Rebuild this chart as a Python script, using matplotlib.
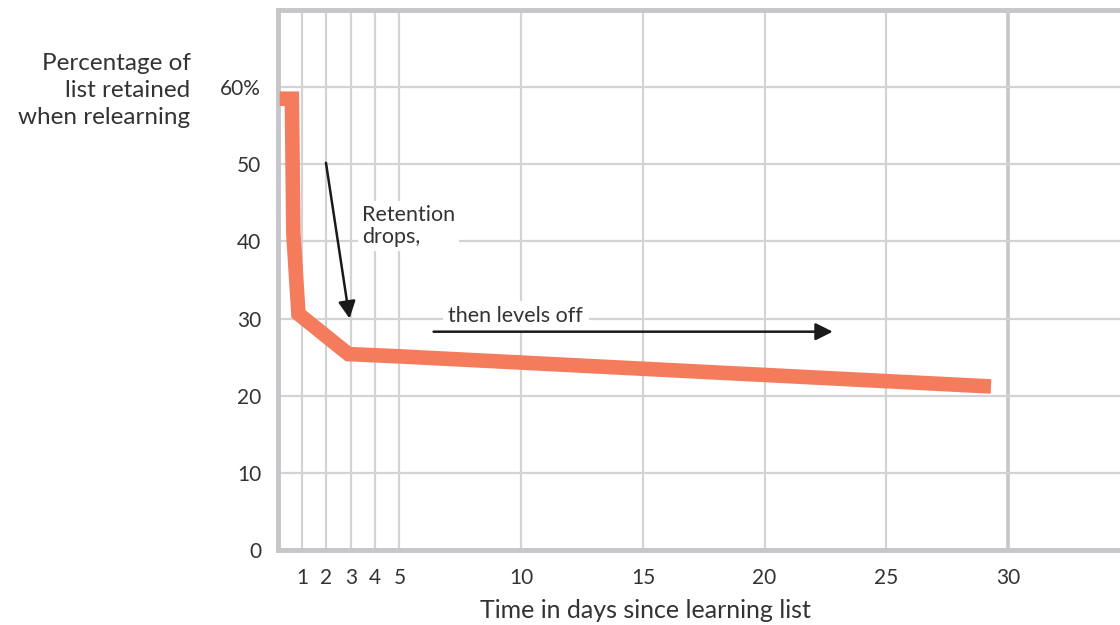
import matplotlib.pyplot as plt

# retention curve (days, percent)
days = [0.08, 0.58, 0.64, 0.85, 2.9, 5.0, 29.3]
retained = [58.5, 58.5, 41.0, 30.6, 25.4, 25.1, 21.2]

xticks = [1, 2, 3, 4, 5, 10, 15, 20, 25, 30]
yticks = [0, 10, 20, 30, 40, 50, 60]
ytick_labels = ["0", "10", "20", "30", "40", "50", "60%"]

plt.rcParams['font.family'] = ['Lato', 'DejaVu Sans']
text_col = '#333333'
grid_col = '#d3d3d6'
spine_col = '#c6c6ca'
line_col = '#f47b5c'

fig = plt.figure(figsize=(11.2, 6.25), dpi=100)
ax = fig.add_axes([0.248, 0.12, 0.752, 0.864])
ax.set_xlim(0, 34.6)
ax.set_ylim(0, 70)

# grid
for x in xticks:
    lw = 2.6 if x == 30 else 1.6
    c = spine_col if x == 30 else grid_col
    ax.axvline(x, color=c, lw=lw, zorder=1)
for y in yticks[1:]:
    ax.axhline(y, color=grid_col, lw=1.6, zorder=1)

for side in ['left', 'top', 'bottom']:
    ax.spines[side].set_color(spine_col)
    ax.spines[side].set_linewidth(3.5)
ax.spines['right'].set_visible(False)

ax.set_xticks(xticks)
ax.set_yticks(yticks)
ax.set_yticklabels(ytick_labels)
ax.tick_params(length=0, labelsize=15, labelcolor=text_col)
ax.tick_params(axis='x', pad=13)
ax.tick_params(axis='y', pad=12)

ax.plot(days, retained, color=line_col, lw=10.5, solid_capstyle='butt',
        solid_joinstyle='miter', zorder=4)

# annotations
ax.text(3.45, 42.0, "Retention\ndrops,", fontsize=15.5, color=text_col,
        va='center', ha='left', linespacing=1.1, zorder=3,
        bbox=dict(facecolor='white', edgecolor='none', pad=3))
ax.annotate("", xy=(2.95, 30.0), xytext=(1.98, 50.2),
            arrowprops=dict(arrowstyle='-|>', color='#1a1a1a', lw=1.8,
                            mutation_scale=26, shrinkA=0, shrinkB=0), zorder=5)
ax.text(7.0, 30.3, "then levels off", fontsize=15.5, color=text_col,
        va='center', ha='left', zorder=3,
        bbox=dict(facecolor='white', edgecolor='none', pad=4))
ax.annotate("", xy=(22.8, 28.3), xytext=(6.4, 28.3),
            arrowprops=dict(arrowstyle='-|>', color='#1a1a1a', lw=1.8,
                            mutation_scale=26, shrinkA=0, shrinkB=0), zorder=5)

fig.text(0.17, 0.915, "Percentage of\nlist retained\nwhen relearning", fontsize=17.5,
         color=text_col, ha='right', va='top', linespacing=1.35)
fig.text(0.576, 0.005, "Time in days since learning list", fontsize=18,
         color=text_col, ha='center', va='bottom')

fig.savefig('out.png', dpi=100)
